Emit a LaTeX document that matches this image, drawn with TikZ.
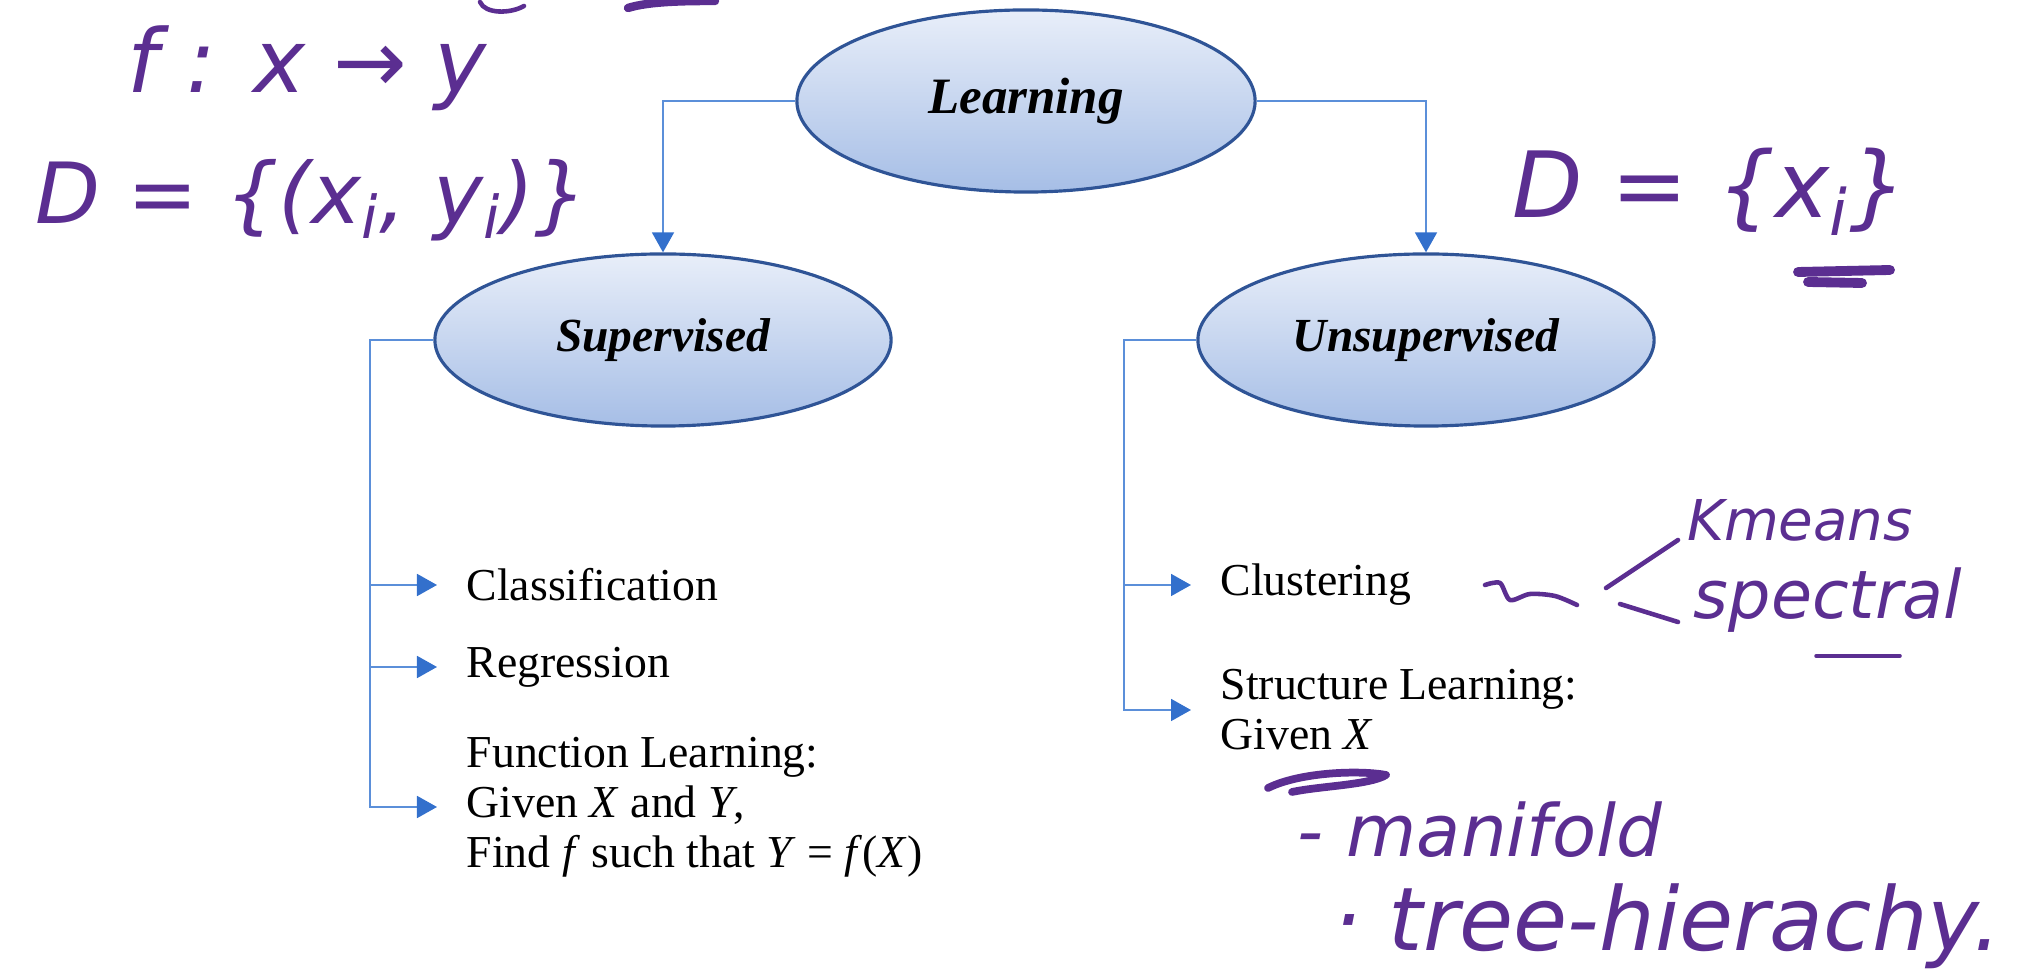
\documentclass[tikz,border=0pt]{standalone}
\usepackage{fontspec}
\setmainfont{Liberation Serif}
\newfontfamily\handfont{DejaVu Sans}
\usetikzlibrary{shapes.geometric, arrows.meta}
\definecolor{elltop}{HTML}{E8EEF9}
\definecolor{ellbot}{HTML}{A6BEE6}
\definecolor{ellline}{HTML}{2F5496}
\definecolor{linkcol}{HTML}{5B8FD9}
\definecolor{tipcol}{HTML}{3370CC}
\definecolor{ink}{HTML}{5B2E91}
\newcommand\handsize[1]{\handfont\itshape\fontsize{#1}{#1}\selectfont}
\tikzstyle{bubble} = [ellipse, draw=ellline, line width=0.9pt, top color=elltop, bottom color=ellbot, minimum width=4.56cm, minimum height=1.72cm, font=\fontsize{13.5}{15}\selectfont\bfseries\itshape]
\tikzstyle{item} = [anchor=west, inner ysep=0pt, inner xsep=0.29cm, align=left, font=\fontsize{13}{14.2}\selectfont]
\tikzstyle{arrow} = [draw=linkcol, line width=0.5pt, -{Triangle[width=0.22cm, length=0.2cm, color=tipcol]}]
\tikzstyle{note} = [text=ink, inner sep=0pt]
\tikzstyle{pen} = [draw=ink, line width=1.3pt, line cap=round, line join=round]

\begin{document}
\begin{tikzpicture}[x=0.01cm, y=-0.01cm]
\useasboundingbox (0,0) rectangle (2018,980);

\node (learn) [bubble, minimum width=4.58cm, minimum height=1.82cm, font=\fontsize{14.5}{16}\selectfont\bfseries\itshape] at (1026,101) {Learning};
\node (sup) [bubble] at (663,340) {Supervised};
\node (unsup) [bubble] at (1426,340) {Unsupervised};

\coordinate (supbar) at (370,340);
\coordinate (unsupbar) at (1124,340);

\node (cls) [item] at (437,585) {Classification};
\node (reg) [item] at (437,667) {Regression};
\node (func) [item] at (437,807) {Function Learning:\\ Given \textit{X} and \textit{Y},\\ Find \textit{f} such that \textit{Y} = \textit{f}(\textit{X})};
\node (clu) [item] at (1191,585) {Clustering};
\node (struct) [item] at (1191,710) {Structure Learning:\\ Given \textit{X}};

\draw [arrow] (learn.west) -| (sup.north);
\draw [arrow] (learn.east) -| (unsup.north);
\draw [arrow] (sup.west) -- (supbar) |- (cls.west);
\draw [arrow] (supbar) |- (reg.west);
\draw [arrow] (supbar) |- (func.west);
\draw [arrow] (unsup.west) -- (unsupbar) |- (clu.west);
\draw [arrow] (unsupbar) |- (struct.west);

% handwritten notes
\node (fmap) [note, font=\handsize{25}] at (307,68) {f : x → y};
\node (dsup) [note, font=\handsize{24}] at (312,200) {D = \{(x\textsubscript{i}, y\textsubscript{i})\}};
\node (dunsup) [note, font=\handsize{26}] at (1710,192) {D = \{x\textsubscript{i}\}};
\node (kmeans) [note, font=\handsize{16}] at (1800,520) {Kmeans};
\node (spectral) [note, font=\handsize{19}] at (1828,600) {spectral};
\node (manifold) [note, font=\handsize{20.5}] at (1480,830) {- manifold};
\node (treeh) [note, font=\handsize{25}] at (1667,926) {· tree-hierachy.};

\draw [pen] (480,2) .. controls (485,14) and (510,14) .. (524,6);
\draw [pen, line width=2.4pt] (628,8) .. controls (650,1) and (690,1) .. (715,1);
\draw [pen] plot [smooth] coordinates {(1485,585) (1500,583) (1510,600) (1530,594) (1555,596) (1577,605)};
\draw [pen] (1678,540) -- (1606,588);
\draw [pen] (1620,604) -- (1678,622);
\draw [pen, line width=2.8pt] (1798,272) -- (1890,270);
\draw [pen, line width=2.8pt] (1808,282) -- (1862,283);
\draw [pen, line width=1pt] (1816,656) -- (1900,656);
\draw [pen, line width=2.2pt] (1268,788) .. controls (1300,772) and (1360,770) .. (1386,775) .. controls (1370,785) and (1320,786) .. (1292,792);

\end{tikzpicture}
\end{document}
